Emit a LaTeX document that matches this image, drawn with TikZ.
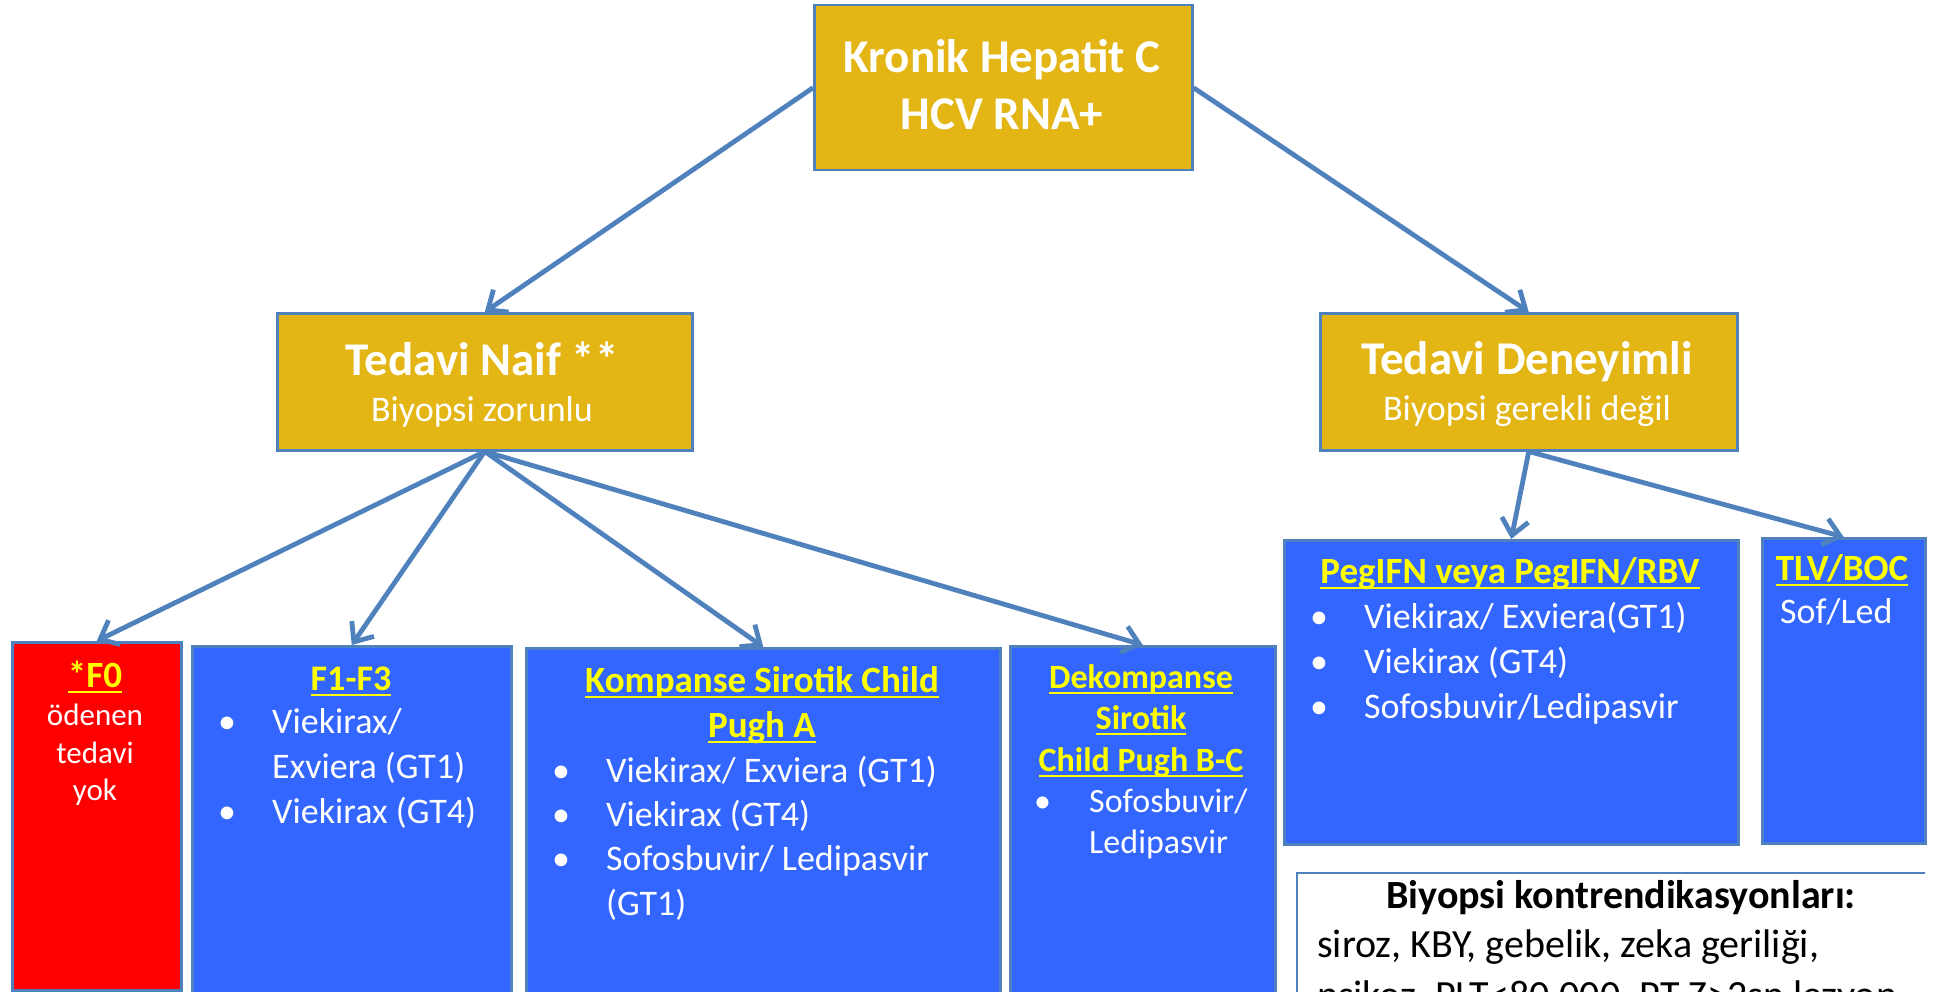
\documentclass[tikz,border=0pt]{standalone}
\usepackage{fontspec}
\setmainfont{Carlito}
\usetikzlibrary{arrows.meta}
\definecolor{gold}{HTML}{E3B515}
\definecolor{cblue}{HTML}{3366FF}
\definecolor{edge}{HTML}{4F81BD}
\definecolor{cyellow}{HTML}{FFFF00}
\newcommand{\yul}[1]{\setbox0=\hbox{#1}\rlap{\rule[-6pt]{\wd0}{2.5pt}}\box0}
\newcommand{\bul}{\makebox[54pt][l]{\textbullet}}

\begin{document}
\begin{tikzpicture}[x=1pt, y=-1pt,
        gbox/.style={draw=edge, fill=gold, line width=2.5pt, anchor=north west, inner sep=0pt},
        bbox/.style={draw=edge, fill=cblue, line width=2.5pt, anchor=north west, inner sep=0pt},
        head/.style={inner sep=0pt, anchor=base, text=white, font=\bfseries\fontsize{47}{57}\selectfont},
        sub/.style={inner sep=0pt, anchor=base, text=white, font=\fontsize{36}{44}\selectfont},
        ttl/.style={inner sep=0pt, anchor=base, text=cyellow, font=\bfseries\fontsize{37}{44}\selectfont},
        txt/.style={inner sep=0pt, anchor=base west, text=white, font=\fontsize{36}{44}\selectfont},
        arr/.style={draw=edge, line width=4.8pt, -{Straight Barb[length=16pt,width=27pt]}}]
    \useasboundingbox (0,0) rectangle (1943,992);
    \clip (0,0) rectangle (1943,992);

    \node[gbox, minimum width=378pt, minimum height=165pt] (hcv) at (813,4) {};
    \node[gbox, minimum width=415pt, minimum height=137pt] (naif) at (276,312) {};
    \node[gbox, minimum width=417pt, minimum height=137pt] (deney) at (1319,312) {};
    \node[bbox, fill=red, minimum width=169pt, minimum height=348pt] (f0) at (11,641) {};
    \node[bbox, minimum width=319pt, minimum height=360pt] (f13) at (191,645) {};
    \node[bbox, minimum width=474pt, minimum height=360pt] (komp) at (525,647) {};
    \node[bbox, minimum width=265pt, minimum height=360pt] (dekomp) at (1009,645) {};
    \node[bbox, minimum width=454pt, minimum height=304pt] (peg) at (1283,539) {};
    \node[bbox, minimum width=163pt, minimum height=305pt] (tlv) at (1761,537) {};
    \begin{scope}
        \clip (0,0) rectangle (1925,992);
        \node[bbox, fill=white, line width=2pt, minimum width=680pt, minimum height=140pt] (kontra) at (1296,872) {};
    \end{scope}

    \node[head] (hcv1) at (1002,73) {Kronik Hepatit C};
    \node[head] (hcv2) at (1002,130) {HCV RNA+};
    \node[head] (naif1) at (482,375) {Tedavi Naif **};
    \node[sub] (naif2) at (482,421) {Biyopsi zorunlu};
    \node[head] (deney1) at (1527,374) {Tedavi Deneyimli};
    \node[sub] (deney2) at (1527,420) {Biyopsi gerekli değil};

    \node[ttl] (f0a) at (95,687) {\yul{*F0}};
    \node[sub, font=\fontsize{31}{38}\selectfont] (f0b) at (95,725) {ödenen};
    \node[sub, font=\fontsize{31}{38}\selectfont] (f0c) at (95,763) {tedavi};
    \node[sub, font=\fontsize{31}{38}\selectfont] (f0d) at (95,800) {yok};

    \node[ttl, font=\bfseries\fontsize{36}{44}\selectfont] (f13a) at (351,690) {\yul{F1-F3}};
    \node[txt] (f13b) at (218,733) {\bul Viekirax/};
    \node[txt] (f13c) at (272,778) {Exviera (GT1)};
    \node[txt] (f13d) at (218,823) {\bul Viekirax (GT4)};

    \node[ttl] (kompa) at (762,692) {\yul{Kompanse Sirotik Child}};
    \node[ttl] (kompb) at (762,737) {\yul{Pugh A}};
    \node[txt] (kompc) at (552,782) {\bul Viekirax/ Exviera (GT1)};
    \node[txt] (kompd) at (552,826) {\bul Viekirax (GT4)};
    \node[txt] (kompe) at (552,870) {\bul Sofosbuvir/ Ledipasvir};
    \node[txt] (kompf) at (606,915) {(GT1)};

    \node[ttl, font=\bfseries\fontsize{34}{41}\selectfont] (dekompa) at (1141,688) {\yul{Dekompanse}};
    \node[ttl, font=\bfseries\fontsize{34}{41}\selectfont] (dekompb) at (1141,729) {\yul{Sirotik}};
    \node[ttl, font=\bfseries\fontsize{34}{41}\selectfont] (dekompc) at (1141,771) {\yul{Child Pugh B-C}};
    \node[txt, font=\fontsize{34}{41}\selectfont] (dekompd) at (1034,812) {\makebox[55pt][l]{\textbullet}Sofosbuvir/};
    \node[txt, font=\fontsize{34}{41}\selectfont] (dekompe) at (1089,853) {Ledipasvir};

    \node[ttl] (pega) at (1510,583) {\yul{PegIFN veya PegIFN/RBV}};
    \node[txt] (pegb) at (1310,628) {\bul Viekirax/ Exviera(GT1)};
    \node[txt] (pegc) at (1310,673) {\bul Viekirax (GT4)};
    \node[txt] (pegd) at (1310,718) {\bul Sofosbuvir/Ledipasvir};

    \node[ttl] (tlva) at (1842,580) {\yul{TLV/BOC}};
    \node[txt] (tlvb) at (1780,623) {Sof/Led};

    \node[sub, text=black, font=\bfseries\fontsize{40}{49}\selectfont] (kontraa) at (1621,908) {Biyopsi kontrendikasyonları:};
    \node[txt, text=black, font=\fontsize{40}{49}\selectfont] (kontrab) at (1317,957) {siroz, KBY, gebelik, zeka geriliği,};
    \node[txt, text=black, font=\fontsize{40}{49}\selectfont] (kontrac) at (1317,1008) {psikoz, PLT<80.000, PT Z>2sn lezyon};

    \draw[arr] (hcv.west) -- (naif.north);
    \draw[arr] (hcv.east) -- (deney.north);
    \draw[arr] (naif.south) -- (f0.north);
    \draw[arr] (naif.south) -- (f13.north);
    \draw[arr] (naif.south) -- (komp.north);
    \draw[arr] (naif.south) -- (dekomp.north);
    \draw[arr] (deney.south) -- (peg.north);
    \draw[arr] (deney.south) -- (tlv.north);
\end{tikzpicture}
\end{document}
